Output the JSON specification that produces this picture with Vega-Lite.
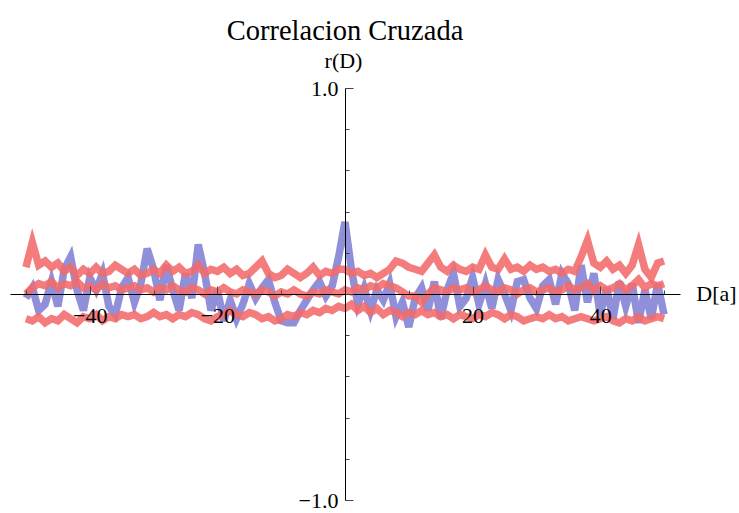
{
  "$schema": "https://vega.github.io/schema/vega-lite/v6.json",
  "width": 670,
  "height": 412,
  "autosize": {"type": "none"},
  "padding": {"left": 10, "top": 88, "right": 59, "bottom": 13},
  "background": "white",
  "config": {"view": {"stroke": null}},
  "title": {
    "text": "Correlacion Cruzada",
    "frame": "group",
    "anchor": "middle",
    "baseline": "alphabetic",
    "offset": -19,
    "font": "Liberation Serif, Times New Roman, serif",
    "fontSize": 28.5,
    "fontWeight": "normal",
    "color": "black"
  },
  "data": {
    "values": [
      {"D": -50, "r": -0.02, "u": 0.13, "m": 0.0, "l": -0.12},
      {"D": -49, "r": 0.03, "u": 0.25, "m": 0.03, "l": -0.13},
      {"D": -48, "r": -0.08, "u": 0.14, "m": 0.05, "l": -0.11},
      {"D": -47, "r": -0.05, "u": 0.16, "m": 0.04, "l": -0.14},
      {"D": -46, "r": 0.06, "u": 0.13, "m": 0.06, "l": -0.12},
      {"D": -45, "r": -0.06, "u": 0.15, "m": 0.03, "l": -0.13},
      {"D": -44, "r": 0.12, "u": 0.11, "m": 0.05, "l": -0.1},
      {"D": -43, "r": 0.18, "u": 0.13, "m": 0.04, "l": -0.12},
      {"D": -42, "r": 0.02, "u": 0.09, "m": 0.06, "l": -0.14},
      {"D": -41, "r": -0.08, "u": 0.12, "m": 0.03, "l": -0.11},
      {"D": -40, "r": 0.08, "u": 0.1, "m": 0.04, "l": -0.12},
      {"D": -39, "r": 0.02, "u": 0.13, "m": 0.02, "l": -0.1},
      {"D": -38, "r": 0.1, "u": 0.1, "m": 0.05, "l": -0.13},
      {"D": -37, "r": -0.06, "u": 0.11, "m": 0.03, "l": -0.11},
      {"D": -36, "r": -0.1, "u": 0.14, "m": 0.04, "l": -0.12},
      {"D": -35, "r": 0.03, "u": 0.12, "m": 0.02, "l": -0.1},
      {"D": -34, "r": 0.08, "u": 0.1, "m": 0.03, "l": -0.11},
      {"D": -33, "r": -0.04, "u": 0.12, "m": 0.04, "l": -0.1},
      {"D": -32, "r": 0.05, "u": 0.09, "m": 0.02, "l": -0.12},
      {"D": -31, "r": 0.22, "u": 0.1, "m": 0.03, "l": -0.11},
      {"D": -30, "r": 0.12, "u": 0.12, "m": 0.01, "l": -0.09},
      {"D": -29, "r": -0.03, "u": 0.1, "m": 0.03, "l": -0.11},
      {"D": -28, "r": 0.14, "u": 0.14, "m": 0.02, "l": -0.1},
      {"D": -27, "r": 0.02, "u": 0.11, "m": 0.04, "l": -0.12},
      {"D": -26, "r": -0.08, "u": 0.13, "m": 0.02, "l": -0.1},
      {"D": -25, "r": 0.1, "u": 0.1, "m": 0.01, "l": -0.11},
      {"D": -24, "r": -0.02, "u": 0.11, "m": 0.03, "l": -0.09},
      {"D": -23, "r": 0.24, "u": 0.14, "m": 0.02, "l": -0.1},
      {"D": -22, "r": 0.1, "u": 0.1, "m": 0.0, "l": -0.12},
      {"D": -21, "r": -0.08, "u": 0.12, "m": 0.02, "l": -0.13},
      {"D": -20, "r": 0.02, "u": 0.11, "m": 0.01, "l": -0.11},
      {"D": -19, "r": -0.13, "u": 0.13, "m": 0.03, "l": -0.1},
      {"D": -18, "r": -0.03, "u": 0.1, "m": 0.01, "l": -0.08},
      {"D": -17, "r": -0.12, "u": 0.12, "m": 0.0, "l": -0.1},
      {"D": -16, "r": -0.05, "u": 0.09, "m": 0.02, "l": -0.11},
      {"D": -15, "r": 0.05, "u": 0.1, "m": 0.01, "l": -0.09},
      {"D": -14, "r": -0.02, "u": 0.13, "m": 0.0, "l": -0.1},
      {"D": -13, "r": 0.03, "u": 0.16, "m": 0.02, "l": -0.12},
      {"D": -12, "r": 0.07, "u": 0.1, "m": 0.01, "l": -0.11},
      {"D": -11, "r": -0.04, "u": 0.08, "m": -0.01, "l": -0.13},
      {"D": -10, "r": -0.13, "u": 0.09, "m": 0.01, "l": -0.12},
      {"D": -9, "r": -0.14, "u": 0.12, "m": 0.0, "l": -0.1},
      {"D": -8, "r": -0.14, "u": 0.1, "m": 0.02, "l": -0.11},
      {"D": -7, "r": -0.08, "u": 0.08, "m": 0.0, "l": -0.09},
      {"D": -6, "r": -0.03, "u": 0.1, "m": -0.01, "l": -0.1},
      {"D": -5, "r": 0.02, "u": 0.13, "m": 0.01, "l": -0.08},
      {"D": -4, "r": 0.06, "u": 0.09, "m": 0.0, "l": -0.09},
      {"D": -3, "r": -0.01, "u": 0.11, "m": 0.02, "l": -0.07},
      {"D": -2, "r": 0.04, "u": 0.1, "m": 0.01, "l": -0.08},
      {"D": -1, "r": 0.18, "u": 0.12, "m": 0.0, "l": -0.06},
      {"D": 0, "r": 0.35, "u": 0.12, "m": 0.02, "l": -0.07},
      {"D": 1, "r": 0.12, "u": 0.1, "m": 0.01, "l": -0.05},
      {"D": 2, "r": -0.05, "u": 0.11, "m": 0.03, "l": -0.08},
      {"D": 3, "r": 0.03, "u": 0.09, "m": 0.02, "l": -0.06},
      {"D": 4, "r": -0.08, "u": 0.1, "m": 0.04, "l": -0.09},
      {"D": 5, "r": 0.02, "u": 0.08, "m": 0.03, "l": -0.07},
      {"D": 6, "r": -0.03, "u": 0.1, "m": 0.05, "l": -0.1},
      {"D": 7, "r": 0.05, "u": 0.12, "m": 0.04, "l": -0.08},
      {"D": 8, "r": -0.11, "u": 0.16, "m": 0.03, "l": -0.09},
      {"D": 9, "r": -0.04, "u": 0.15, "m": 0.01, "l": -0.11},
      {"D": 10, "r": -0.16, "u": 0.13, "m": -0.01, "l": -0.09},
      {"D": 11, "r": -0.02, "u": 0.12, "m": -0.01, "l": -0.1},
      {"D": 12, "r": 0.03, "u": 0.11, "m": -0.04, "l": -0.08},
      {"D": 13, "r": -0.08, "u": 0.15, "m": 0.0, "l": -0.1},
      {"D": 14, "r": 0.06, "u": 0.19, "m": 0.03, "l": -0.09},
      {"D": 15, "r": -0.12, "u": 0.13, "m": 0.02, "l": -0.11},
      {"D": 16, "r": 0.02, "u": 0.11, "m": 0.01, "l": -0.1},
      {"D": 17, "r": 0.1, "u": 0.14, "m": 0.03, "l": -0.12},
      {"D": 18, "r": -0.06, "u": 0.12, "m": 0.02, "l": -0.1},
      {"D": 19, "r": -0.02, "u": 0.11, "m": 0.03, "l": -0.11},
      {"D": 20, "r": 0.08, "u": 0.13, "m": 0.01, "l": -0.12},
      {"D": 21, "r": -0.05, "u": 0.12, "m": 0.02, "l": -0.1},
      {"D": 22, "r": 0.05, "u": 0.19, "m": 0.04, "l": -0.11},
      {"D": 23, "r": -0.07, "u": 0.13, "m": 0.02, "l": -0.09},
      {"D": 24, "r": 0.07, "u": 0.12, "m": 0.01, "l": -0.1},
      {"D": 25, "r": 0.0, "u": 0.17, "m": 0.03, "l": -0.12},
      {"D": 26, "r": -0.08, "u": 0.12, "m": 0.02, "l": -0.1},
      {"D": 27, "r": 0.06, "u": 0.13, "m": 0.0, "l": -0.11},
      {"D": 28, "r": 0.07, "u": 0.11, "m": 0.02, "l": -0.13},
      {"D": 29, "r": -0.02, "u": 0.14, "m": 0.03, "l": -0.12},
      {"D": 30, "r": -0.07, "u": 0.12, "m": 0.01, "l": -0.11},
      {"D": 31, "r": 0.04, "u": 0.13, "m": 0.02, "l": -0.12},
      {"D": 32, "r": 0.07, "u": 0.11, "m": 0.03, "l": -0.1},
      {"D": 33, "r": -0.05, "u": 0.12, "m": 0.01, "l": -0.12},
      {"D": 34, "r": 0.1, "u": 0.1, "m": 0.02, "l": -0.11},
      {"D": 35, "r": 0.05, "u": 0.12, "m": 0.04, "l": -0.13},
      {"D": 36, "r": -0.08, "u": 0.11, "m": 0.02, "l": -0.12},
      {"D": 37, "r": 0.14, "u": 0.18, "m": 0.03, "l": -0.11},
      {"D": 38, "r": -0.04, "u": 0.26, "m": 0.05, "l": -0.12},
      {"D": 39, "r": 0.1, "u": 0.15, "m": 0.02, "l": -0.13},
      {"D": 40, "r": -0.1, "u": 0.13, "m": 0.04, "l": -0.12},
      {"D": 41, "r": 0.03, "u": 0.16, "m": 0.02, "l": -0.11},
      {"D": 42, "r": -0.12, "u": 0.12, "m": 0.03, "l": -0.13},
      {"D": 43, "r": 0.06, "u": 0.14, "m": 0.05, "l": -0.14},
      {"D": 44, "r": -0.06, "u": 0.1, "m": 0.02, "l": -0.12},
      {"D": 45, "r": 0.05, "u": 0.14, "m": 0.04, "l": -0.13},
      {"D": 46, "r": -0.14, "u": 0.24, "m": 0.07, "l": -0.11},
      {"D": 47, "r": 0.02, "u": 0.12, "m": 0.03, "l": -0.13},
      {"D": 48, "r": -0.12, "u": 0.08, "m": 0.05, "l": -0.12},
      {"D": 49, "r": 0.05, "u": 0.15, "m": 0.04, "l": -0.11},
      {"D": 50, "r": -0.1, "u": 0.16, "m": 0.05, "l": -0.12}
    ]
  },
  "layer": [
    {
      "mark": {"type": "line", "color": "#8a8ad8", "strokeWidth": 7.5, "opacity": 0.95},
      "encoding": {
        "x": {
          "field": "D", "type": "quantitative",
          "scale": {"domain": [-52.5, 52.5], "nice": false, "zero": false},
          "axis": {
            "orient": "bottom",
            "offset": -206,
            "values": [-50, -45, -40, -35, -30, -25, -20, -15, -10, -5, 0, 5, 10, 15, 20, 25, 30, 35, 40, 45, 50],
            "labelExpr": "(datum.value % 20 === 0 && datum.value !== 0) ? format(datum.value, 'd') : ''",
            "title": "D[a]",
            "titleX": 706,
            "titleY": 6,
            "titleAngle": 0,
            "titleAlign": "center",
            "titleBaseline": "alphabetic",
            "titleFont": "Liberation Serif, Times New Roman, serif",
            "titleFontSize": 22,
            "titleFontWeight": "normal",
            "titleColor": "black",
            "domainColor": "black",
            "domainWidth": 1,
            "tickColor": "#444",
            "tickWidth": 1,
            "tickSize": {"condition": {"test": "datum.value % 20 === 0", "value": -8}, "value": -4},
            "labelFont": "Liberation Serif, Times New Roman, serif",
            "labelFontSize": 22,
            "labelColor": "black",
            "labelPadding": 19,
            "labelFlush": false,
            "labelOverlap": false,
            "grid": false,
            "zindex": 1
          }
        },
        "y": {
          "field": "r", "type": "quantitative",
          "scale": {"domain": [-1, 1], "nice": false, "zero": false},
          "axis": {
            "orient": "left",
            "offset": -335,
            "values": [-1, -0.9, -0.8, -0.7, -0.6, -0.5, -0.4, -0.3, -0.2, -0.1, 0, 0.1, 0.2, 0.3, 0.4, 0.5, 0.6, 0.7, 0.8, 0.9, 1],
            "labelExpr": "(datum.value !== 0 && abs(datum.value * 2 - round(datum.value * 2)) < 0.001) ? format(datum.value, '.1f') : ''",
            "title": "r(D)",
            "titleX": -2,
            "titleY": -21,
            "titleAngle": 0,
            "titleAlign": "center",
            "titleBaseline": "alphabetic",
            "titleFont": "Liberation Serif, Times New Roman, serif",
            "titleFontSize": 22,
            "titleFontWeight": "normal",
            "titleColor": "black",
            "domainColor": "black",
            "domainWidth": 1,
            "tickColor": "#444",
            "tickWidth": 1,
            "tickSize": {"condition": {"test": "abs(datum.value * 2 - round(datum.value * 2)) < 0.001", "value": -8}, "value": -4},
            "labelFont": "Liberation Serif, Times New Roman, serif",
            "labelFontSize": 22,
            "labelColor": "black",
            "labelPadding": 15,
            "labelFlush": false,
            "labelOverlap": false,
            "grid": false,
            "zindex": 1
          }
        }
      }
    },
    {
      "mark": {"type": "line", "color": "#f26a6a", "strokeWidth": 7.5, "opacity": 0.88},
      "encoding": {
        "x": {"field": "D", "type": "quantitative"},
        "y": {"field": "u", "type": "quantitative"}
      }
    },
    {
      "mark": {"type": "line", "color": "#f26a6a", "strokeWidth": 7.5, "opacity": 0.88},
      "encoding": {
        "x": {"field": "D", "type": "quantitative"},
        "y": {"field": "m", "type": "quantitative"}
      }
    },
    {
      "mark": {"type": "line", "color": "#f26a6a", "strokeWidth": 7.5, "opacity": 0.88},
      "encoding": {
        "x": {"field": "D", "type": "quantitative"},
        "y": {"field": "l", "type": "quantitative"}
      }
    }
  ]
}
